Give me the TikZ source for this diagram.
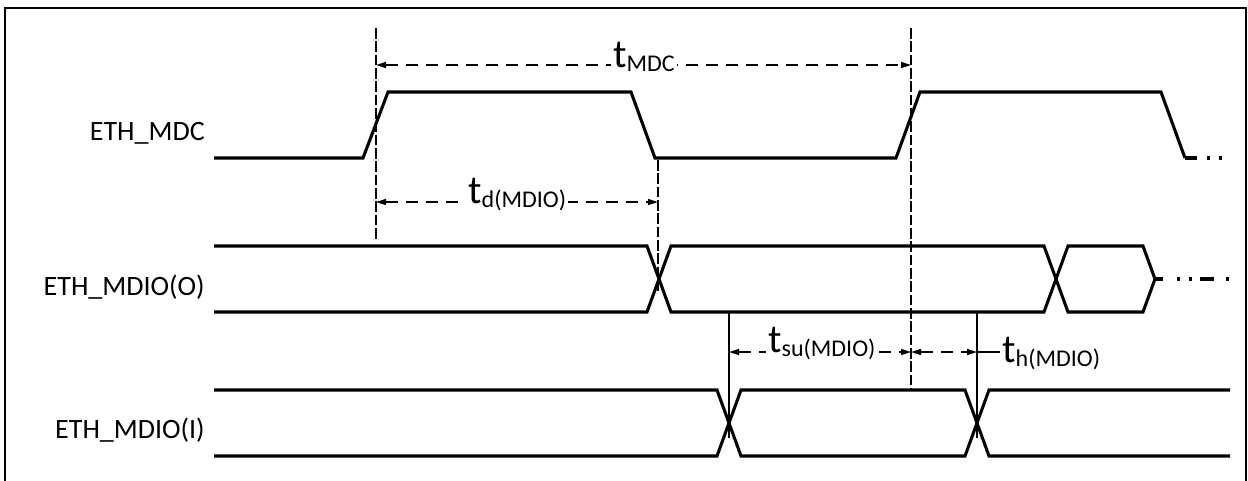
\documentclass[tikz,border=0pt]{standalone}
\usepackage{fontspec}
\setmainfont{Carlito}
\usetikzlibrary{arrows.meta}
\newcommand\tsubx[1]{t\raisebox{-3.5pt}{\fontsize{18}{21}\selectfont #1}}
\begin{document}
\begin{tikzpicture}[x=0.75pt,y=-0.75pt,
  sig/.style={line width=2.3pt},
  frame/.style={line width=1.6pt},
  marker/.style={line width=1.5pt, dash pattern=on 8pt off 2pt},
  thinmark/.style={line width=0.8pt},
  dim/.style={line width=1.1pt, dash pattern=on 9pt off 6pt,
    {Triangle[length=7.5pt,width=4.5pt]}-{Triangle[length=7.5pt,width=4.5pt]}},
  siglabel/.style={font=\fontsize{21}{25}\selectfont, anchor=base east, inner sep=0pt},
  tlabel/.style={anchor=base west, fill=white, inner xsep=1.5pt, inner ysep=1pt,
    font=\fontsize{30}{33}\selectfont}]
\useasboundingbox (0,0) rectangle (1248,480);
% frame
\draw[frame] (5,482) -- (5,8) -- (1246,8) -- (1246,482);
% signal names
\node[siglabel] (lmdc) at (205,140) {ETH\_MDC};
\node[siglabel] (lout) at (205,295) {ETH\_MDIO(O)};
\node[siglabel] (lin)  at (205,438) {ETH\_MDIO(I)};
% ETH_MDC
\draw[sig] (214,158) -- (363,158) -- (388,92) -- (631,92) -- (655,158) -- (896,158)
  -- (920,92) -- (1161,92) -- (1185,158);
\draw[sig, dash pattern=on 9pt off 7.5pt on 2.25pt off 6.75pt on 2.25pt off 20pt]
  (1185,158) -- (1222,158);
% ETH_MDIO(O)
\draw[sig] (214,246) -- (647,246) -- (671,312) -- (1044,312) -- (1068,246) -- (1143,246)
  -- (1155,279) -- (1143,312) -- (1068,312) -- (1044,246) -- (671,246) -- (647,312) -- (214,312);
\draw[sig, dash pattern=on 6pt off 10.5pt on 2.25pt off 6.75pt on 2.25pt off 6pt on 10.5pt off 9pt on 2.25pt off 20pt]
  (1155,279) -- (1230,279);
% ETH_MDIO(I)
\draw[sig] (214,390) -- (717,390) -- (741,456) -- (965,456) -- (989,390) -- (1230,390);
\draw[sig] (214,456) -- (717,456) -- (741,390) -- (965,390) -- (989,456) -- (1230,456);
% time markers
\coordinate (m1t) at (376,28);  \coordinate (m1b) at (376,240);
\coordinate (m2t) at (911,28);  \coordinate (m2b) at (911,390);
\coordinate (m3t) at (658,160); \coordinate (m3b) at (658,292);
\coordinate (m4t) at (729,313); \coordinate (m4b) at (729,438);
\coordinate (m5t) at (977,313); \coordinate (m5b) at (977,438);
\draw[marker] (m1t) -- (m1b);
\draw[marker] (m2t) -- (m2b);
\draw[marker] (m3t) -- (m3b);
\draw[thinmark] (m4t) -- (m4b);
\draw[thinmark] (m5t) -- (m5b);
% dimension lines
\coordinate (a1) at (376,65);  \coordinate (a2) at (911,65);
\coordinate (b1) at (376,202); \coordinate (b2) at (658,202);
\coordinate (s1) at (729,352); \coordinate (s2) at (911,352);
\coordinate (h1) at (911,352); \coordinate (h2) at (977,352);
\draw[dim] (a1) -- (a2);
\draw[dim] (b1) -- (b2);
\draw[dim] (s1) -- (s2);
\draw[dim] (h1) -- (h2);
\node[tlabel] (tmdc) at (611,67) {\tsubx{MDC}};
\node[tlabel] (td) at (466,203) {\tsubx{d(MDIO)}};
\node[tlabel] (tsu) at (766,352) {\tsubx{su(MDIO)}};
\node[tlabel, fill=none] (th) at (1000,362) {\tsubx{h(MDIO)}};
\draw[line width=1.1pt] (h2) -- (th.west |- h2);
\end{tikzpicture}
\end{document}
